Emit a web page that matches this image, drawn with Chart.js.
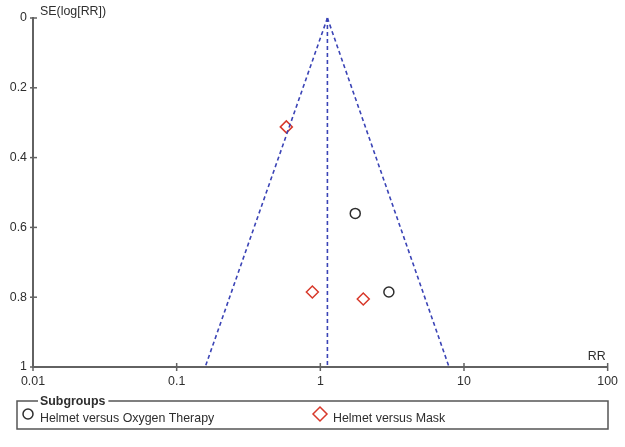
<!DOCTYPE html>
<html>
<head>
<meta charset="utf-8">
<script src="https://cdn.jsdelivr.net/npm/chart.js@4"></script>
<style>
  body { margin: 0; background: #fff; }
  canvas { display: block; }
</style>
</head>
<body>
<canvas id="myChart" width="625" height="447"></canvas>
<script>
// Datos del funnel plot
const oxygenRR = [1.75, 3.0]; // Helmet versus Oxygen Therapy
const oxygenSE = [0.56, 0.785];
const maskRR = [0.58, 0.88, 1.99]; // Helmet versus Mask
const maskSE = [0.312, 0.785, 0.805];
const pooledRR = 1.12;
const funnelSE = [0, 1];
const funnelLeftRR = [1.12, 0.158];
const funnelRightRR = [1.12, 7.87];
const xTicks = [0.01, 0.1, 1, 10, 100];
const yTicks = [0, 0.2, 0.4, 0.6, 0.8, 1];
const legendLabels = ["Helmet versus Oxygen Therapy", "Helmet versus Mask"];

const FONT = "'Liberation Sans', Arial, sans-serif";
const FSIZE = 12.4;
const AXIS = "#626262";
const TEXT = "#2e2e2e";
const BLUE = "#3b44b6";
const RED = "#d8392b";

const toPoints = (xs, ys) => xs.map((x, i) => ({ x: x, y: ys[i] }));

const funnelLine = (data) => ({
  type: "scatter",
  data: data,
  showLine: true,
  pointRadius: 0,
  borderColor: BLUE,
  borderWidth: 1.6,
  borderDash: [4, 3],
  clip: false,
});

// Plugin para ticks cruzados, títulos de ejes y leyenda
const extras = {
  id: "extras",
  afterDraw(chart) {
    const ctx = chart.ctx;
    const x = chart.scales.x;
    const y = chart.scales.y;
    const area = chart.chartArea;
    ctx.save();
    ctx.strokeStyle = AXIS;
    ctx.lineWidth = 1.5;
    // ticks del eje y
    yTicks.forEach((v) => {
      const py = y.getPixelForValue(v);
      ctx.beginPath();
      ctx.moveTo(area.left - 3, py);
      ctx.lineTo(area.left + 4, py);
      ctx.stroke();
    });
    // ticks del eje x
    xTicks.forEach((v) => {
      const px = x.getPixelForValue(v);
      ctx.beginPath();
      ctx.moveTo(px, area.bottom - 4);
      ctx.lineTo(px, area.bottom + 4);
      ctx.stroke();
    });

    // títulos de los ejes
    ctx.fillStyle = TEXT;
    ctx.font = FSIZE + "px " + FONT;
    ctx.textBaseline = "middle";
    ctx.textAlign = "left";
    ctx.fillText("SE(log[RR])", area.left + 7, 12);
    ctx.textAlign = "right";
    ctx.fillText("RR", area.right - 2, area.bottom - 10);

    // leyenda
    const bx = 17, by = 401, bw = 591, bh = 28;
    ctx.strokeStyle = "#555";
    ctx.lineWidth = 1.5;
    ctx.strokeRect(bx, by, bw, bh);
    ctx.font = "bold " + FSIZE + "px " + FONT;
    ctx.textAlign = "left";
    const tw = ctx.measureText("Subgroups").width;
    ctx.fillStyle = "#fff";
    ctx.fillRect(38, by - 3, tw + 5, 6);
    ctx.fillStyle = TEXT;
    ctx.fillText("Subgroups", 40, by + 1);

    ctx.font = FSIZE + "px " + FONT;
    // círculo
    ctx.strokeStyle = TEXT;
    ctx.lineWidth = 1.5;
    ctx.beginPath();
    ctx.arc(28, 414, 5, 0, Math.PI * 2);
    ctx.stroke();
    ctx.fillText(legendLabels[0], 40, 419);
    // rombo
    ctx.strokeStyle = RED;
    ctx.beginPath();
    ctx.moveTo(320, 407);
    ctx.lineTo(327, 414);
    ctx.lineTo(320, 421);
    ctx.lineTo(313, 414);
    ctx.closePath();
    ctx.stroke();
    ctx.fillText(legendLabels[1], 333, 419);
    ctx.restore();
  },
};

const ctx = document.getElementById("myChart").getContext("2d");

const config = {
  type: "scatter",
  data: {
    datasets: [
      funnelLine(toPoints(funnelLeftRR, funnelSE)),
      funnelLine(toPoints(funnelRightRR, funnelSE)),
      funnelLine(toPoints([pooledRR, pooledRR], funnelSE)),
      {
        label: legendLabels[0],
        data: toPoints(oxygenRR, oxygenSE),
        pointStyle: "circle",
        pointRadius: 5,
        borderColor: TEXT,
        backgroundColor: "rgba(0,0,0,0)",
        borderWidth: 1.5,
      },
      {
        label: legendLabels[1],
        data: toPoints(maskRR, maskSE),
        pointStyle: "rectRot",
        pointRadius: 6,
        borderColor: RED,
        backgroundColor: "rgba(0,0,0,0)",
        borderWidth: 1.5,
      },
    ],
  },
  options: {
    responsive: false,
    animation: false,
    layout: { padding: { top: 18, right: 16, left: 0, bottom: 0 } },
    plugins: {
      legend: { display: false },
      tooltip: { enabled: false },
    },
    scales: {
      x: {
        type: "logarithmic",
        min: 0.01,
        max: 100,
        afterBuildTicks: (scale) => {
          scale.ticks = xTicks.map((v) => ({ value: v }));
        },
        afterFit: (scale) => {
          scale.height = 80;
        },
        grid: { display: false, drawTicks: false },
        border: { color: AXIS, width: 2 },
        ticks: {
          padding: 7,
          color: TEXT,
          font: { family: FONT, size: FSIZE },
          callback: (v) => String(v),
        },
      },
      y: {
        type: "linear",
        reverse: true,
        min: 0,
        max: 1,
        afterBuildTicks: (scale) => {
          scale.ticks = yTicks.map((v) => ({ value: v }));
        },
        afterFit: (scale) => {
          scale.width = 33;
        },
        grid: { display: false, drawTicks: false },
        border: { color: AXIS, width: 2 },
        ticks: {
          padding: 6,
          color: TEXT,
          font: { family: FONT, size: FSIZE },
          callback: (v) => String(Number(v.toFixed(1))),
        },
      },
    },
  },
  plugins: [extras],
};

const myChart = new Chart(ctx, config);
</script>
</body>
</html>
